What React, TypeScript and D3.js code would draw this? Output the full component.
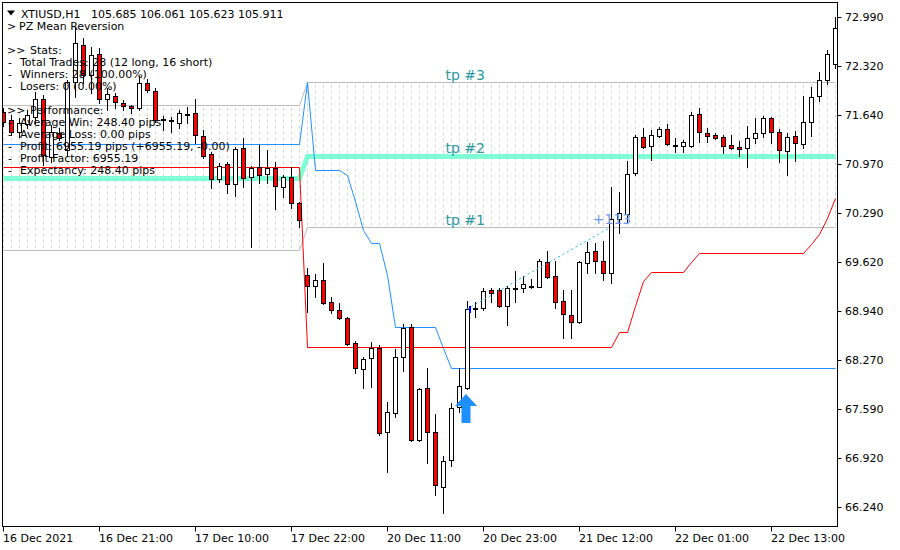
import * as d3 from "d3";

// ---- candles (H1 XTIUSD, oldest -> newest) ----
const opens = [
  71.683, 71.573, 71.408, 71.518, 71.615, 71.863, 71.063, 71.394, 71.16, 72.097,
  72.607, 72.193, 72.483, 71.863, 71.904, 71.807, 71.766, 71.739, 72.083, 71.973,
  71.573, 71.573, 71.532, 71.656, 71.67, 71.353, 71.105, 70.76, 70.967, 70.691,
  71.187, 70.788, 70.925, 70.829, 70.912, 70.65, 70.788, 70.429, 69.437, 69.286,
  69.368, 69.065, 68.955, 68.844, 68.5, 68.141, 68.293, 68.431, 67.273, 67.535,
  68.307, 68.72, 67.163, 67.88, 67.273, 66.515, 66.887, 67.618, 67.88, 68.968,
  68.982, 69.23, 69.23, 69.01, 69.251, 69.258, 69.286, 69.272, 69.616, 69.423,
  69.079, 68.886, 68.789, 69.602, 69.768, 69.63, 69.465, 70.209, 70.278, 70.843,
  71.339, 71.215, 71.353, 71.449, 71.222, 71.215, 71.215, 71.656, 71.394, 71.366,
  71.339, 71.229, 71.201, 71.187, 71.325, 71.394, 71.601, 71.408, 71.146, 71.353,
  71.242, 71.546, 71.904, 72.124, 72.345,
];
const highs = [
  71.739, 71.642, 71.601, 71.711, 71.959, 71.918, 71.504, 71.463, 72.124, 72.855,
  72.703, 72.579, 72.565, 72.014, 71.945, 71.849, 71.78, 72.18, 72.138, 72.014,
  71.628, 71.615, 71.711, 71.752, 71.863, 71.435, 71.132, 70.981, 70.994, 71.201,
  71.325, 70.939, 71.229, 71.16, 70.994, 70.815, 70.925, 70.443, 69.533, 69.451,
  69.602, 69.134, 69.051, 68.858, 68.527, 68.307, 68.514, 68.472, 67.687, 68.417,
  68.762, 68.762, 67.88, 68.155, 67.521, 66.942, 67.673, 68.155, 69.079, 69.065,
  69.258, 69.258, 69.258, 69.286, 69.492, 69.423, 69.382, 69.657, 69.768, 69.63,
  69.23, 69.23, 69.63, 69.892, 69.878, 69.906, 70.65, 70.581, 71.008, 71.366,
  71.463, 71.435, 71.477, 71.518, 71.325, 71.298, 71.683, 71.739, 71.463, 71.394,
  71.366, 71.366, 71.284, 71.49, 71.601, 71.628, 71.615, 71.449, 71.394, 71.422,
  71.904, 72.028, 72.235, 72.538, 72.993,
];
const lows = [
  71.49, 71.366, 71.339, 71.463, 71.532, 70.953, 70.994, 71.298, 71.091, 71.89,
  72.083, 71.945, 71.807, 71.711, 71.739, 71.711, 71.67, 71.711, 71.959, 71.546,
  71.435, 71.408, 71.463, 71.532, 71.256, 71.049, 70.636, 70.719, 70.567, 70.526,
  70.65, 69.823, 70.705, 70.705, 70.347, 70.512, 70.36, 70.098, 68.927, 69.134,
  69.037, 68.913, 68.831, 68.472, 68.086, 67.88, 67.893, 67.232, 66.722, 67.48,
  68.114, 67.149, 67.149, 66.846, 66.405, 66.157, 66.805, 67.549, 67.866, 68.858,
  68.955, 69.065, 68.996, 68.748, 69.065, 69.203, 69.258, 69.265, 69.402, 68.982,
  68.568, 68.568, 68.775, 69.465, 69.465, 69.368, 69.327, 70.016, 70.167, 70.815,
  71.187, 71.022, 71.339, 71.235, 71.132, 71.132, 71.201, 71.27, 71.27, 71.311,
  71.118, 71.173, 71.077, 70.925, 71.256, 71.339, 71.256, 70.994, 70.815, 71.008,
  71.187, 71.353, 71.835, 72.069, 72.29,
];
const closes = [
  71.546, 71.408, 71.532, 71.642, 71.863, 71.091, 71.408, 71.325, 72.097, 72.634,
  72.193, 72.469, 71.863, 71.931, 71.821, 71.766, 71.739, 72.083, 71.987, 71.573,
  71.587, 71.56, 71.67, 71.642, 71.366, 71.077, 70.76, 70.939, 70.691, 71.173,
  70.774, 70.912, 70.815, 70.912, 70.664, 70.788, 70.429, 70.195, 69.286, 69.368,
  69.051, 68.955, 68.844, 68.486, 68.155, 68.279, 68.431, 67.259, 67.549, 68.307,
  68.707, 67.163, 67.866, 67.273, 66.543, 66.873, 67.604, 67.907, 68.968, 68.982,
  69.216, 69.196, 69.01, 69.258, 69.258, 69.313, 69.292, 69.63, 69.409, 69.065,
  68.899, 68.789, 69.616, 69.754, 69.63, 69.465, 70.209, 70.291, 70.829, 71.339,
  71.201, 71.366, 71.449, 71.242, 71.215, 71.27, 71.642, 71.408, 71.353, 71.325,
  71.215, 71.187, 71.173, 71.325, 71.394, 71.601, 71.408, 71.16, 71.339, 71.256,
  71.546, 71.89, 72.124, 72.483, 72.841,
];

// ---- indicator lines, as [bar, price] vertices ----
const blueLine: [number, number][] = [
  [0, 71.242], [37, 71.242], [38, 72.097], [39, 70.884], [42, 70.884], [43, 70.815],
  [44, 70.457], [45, 70.057], [46, 69.878], [47, 69.878], [48, 69.437], [49, 68.72],
  [54, 68.72], [55, 68.431], [56, 68.155], [104, 68.155],
];
const redLine: [number, number][] = [
  [0, 70.925], [37, 70.925], [38, 68.445], [76, 68.445], [77, 68.651], [78, 68.651],
  [79, 69.01], [80, 69.354], [81, 69.478], [85, 69.478], [86, 69.616], [87, 69.74],
  [100, 69.74], [101, 69.864], [102, 70.002], [103, 70.223], [104, 70.498],
];
const tp3Line: [number, number][] = [[0, 71.78], [37, 71.78], [38, 72.097], [104, 72.097]];
const tp2Line: [number, number][] = [[0, 70.777], [37, 70.777], [38, 71.084], [104, 71.084]];
const tp1Line: [number, number][] = [[0, 69.781], [37, 69.781], [38, 70.098], [104, 70.098]];

const tpLabels = ["tp #3", "tp #2", "tp #1"];
const tpLabelBar = 60;

// trade + signal
const tradeOpen: [number, number] = [58, 68.968];
const tradeClose: [number, number] = [76, 70.098];
const tradeResult = "+113";
const signalBar = 58;
const signalPrice = 67.797;

// ---- axes ----
const priceTicks = [72.99, 72.32, 71.64, 70.97, 70.29, 69.62, 68.94, 68.27, 67.59, 66.92, 66.24];
const timeTickBars = [0, 12, 24, 36, 48, 60, 72, 84, 96];
const timeTickLabels = [
  "16 Dec 2021", "16 Dec 21:00", "17 Dec 10:00", "17 Dec 22:00", "20 Dec 11:00",
  "20 Dec 23:00", "21 Dec 12:00", "22 Dec 01:00", "22 Dec 13:00",
];

// ---- stats panel ----
const symbolTitle = "XTIUSD,H1";
const quoteLine = "105.685 106.061 105.623 105.911";
const statsLines: [string, string][] = [
  [">", "PZ Mean Reversion"],
  ["", ""],
  [">>", "Stats:"],
  ["-", "Total Trades: 28 (12 long, 16 short)"],
  ["-", "Winners: 28 (100.00%)"],
  ["-", "Losers: 0 (0.00%)"],
  ["", ""],
  [">>", "Performance:"],
  ["-", "Average Win: 248.40 pips"],
  ["-", "Average Loss: 0.00 pips"],
  ["-", "Profit: 6955.19 pips (+6955.19, -0.00)"],
  ["-", "Profit Factor: 6955.19"],
  ["-", "Expectancy: 248.40 pips"],
];

const FONT = "Tahoma, 'DejaVu Sans', sans-serif";

const plot = { left: 2.5, top: 2.5, right: 837.5, bottom: 526.5 };

function levelAt(line: [number, number][], bar: number) {
  let v = line[0][1];
  for (const [b, p] of line) if (b <= bar) v = p;
  return v;
}

function App() {
  const x = d3.scaleLinear().domain([0, 104]).range([3, 835]);
  const y = d3.scaleLinear().domain([66.24, 72.99]).range([507, 17.2]);
  const px = (i: number) => Math.round(x(i)) + 0.5;
  const py = (v: number) => Math.round(y(v)) + 0.5;

  const path = d3.line<[number, number]>()
    .x((d) => px(d[0]))
    .y((d) => py(d[1]));

  const bars = d3.range(opens.length);

  const ax = x(signalBar) - 1;
  const ay = y(signalPrice);
  const arrow = [[0, 0], [11, 12], [4.5, 12], [4.5, 29], [-4.5, 29], [-4.5, 12], [-11, 12]]
    .map(([dx, dy]) => `${ax + dx},${ay + dy}`).join(" ");

  return (
    <svg width={900} height={550} style={{ position: "absolute", left: 0, top: 0, background: "#fff" }}
      fontFamily={FONT}>
      <defs>
        <clipPath id="plot-clip">
          <rect x={plot.left} y={plot.top} width={plot.right - plot.left} height={plot.bottom - plot.top} />
        </clipPath>
      </defs>
      <rect width={900} height={550} fill="#fff" />

      <g clipPath="url(#plot-clip)">
        {/* tp zone grid */}
        {bars.map((i) => (
          <line key={`z-${i}`} x1={px(i)} x2={px(i)}
            y1={py(levelAt(tp3Line, i)) + 2} y2={py(levelAt(tp1Line, i)) - 1}
            stroke="#d4d4d4" strokeDasharray="3,3" />
        ))}
        <path d={path(tp3Line) ?? ""} fill="none" stroke="#bdbdbd" />
        <path d={path(tp1Line) ?? ""} fill="none" stroke="#bdbdbd" />
        <path d={path(tp2Line) ?? ""} fill="none" stroke="#7fffd4" strokeWidth={5} />
        <path d={path(blueLine) ?? ""} fill="none" stroke="#1e90ff" />
        <path d={path(redLine) ?? ""} fill="none" stroke="#ff0000" />

        {/* candles */}
        {bars.map((i) => {
          const o = opens[i], c = closes[i];
          const cx = px(i);
          const top = Math.round(y(Math.max(o, c)));
          const bot = Math.round(y(Math.min(o, c)));
          return (
            <g key={`c-${i}`}>
              <line x1={cx} x2={cx} y1={Math.round(y(highs[i]))} y2={Math.round(y(lows[i])) + 1} stroke="#000" />
              <rect x={cx - 2} y={top + 0.5} width={4} height={Math.max(1, bot - top)}
                fill={c >= o ? "#fff" : "#ff0000"} stroke="#000" />
            </g>
          );
        })}

        {/* trade */}
        <line x1={x(tradeOpen[0])} y1={y(tradeOpen[1])} x2={x(tradeClose[0])} y2={y(tradeClose[1])}
          stroke="#1eb4f0" strokeDasharray="2,3" />
        <rect x={Math.round(x(tradeOpen[0])) + 2} y={Math.round(y(tradeOpen[1])) - 3} width={2} height={7} fill="#0000ff" />
        <polygon points={arrow} fill="#1e90ff" />

        <text x={x(tradeClose[0]) + 1} y={y(tradeClose[1]) - 3} fontSize={14} fill="#6f97f0"
          textAnchor="middle" fontFamily="'DejaVu Sans', sans-serif">{tradeResult}</text>

        {[tp3Line, tp2Line, tp1Line].map((l, k) => (
          <text key={tpLabels[k]} x={x(tpLabelBar) + 2} y={py(levelAt(l, tpLabelBar)) - (k === 1 ? 4 : 3)}
            fontSize={14} fill="#2a9aa0" textAnchor="end" fontFamily="'DejaVu Sans', sans-serif">
            {tpLabels[k]}
          </text>
        ))}

        {/* stats panel */}
        <polygon points="7,10.5 15,10.5 11,15.5" fill="#000" />
        <text x={21} y={17.5} fontSize={11} fill="#000">{symbolTitle}</text>
        <text x={91} y={17.5} fontSize={11} fill="#000">{quoteLine}</text>
        {statsLines.map(([mark, label], k) => (
          <g key={`s-${k}`} fontSize={11} fill="#000">
            <text x={mark === "-" ? 8 : 7} y={29.5 + 12 * k}>{mark}</text>
            <text x={mark === ">" ? 19 : mark === ">>" ? 30 : 20} y={29.5 + 12 * k}>{label}</text>
          </g>
        ))}
      </g>

      {/* frame */}
      <rect x={plot.left} y={plot.top} width={plot.right - plot.left} height={plot.bottom - plot.top}
        fill="none" stroke="#000" />

      {/* price axis */}
      {priceTicks.map((p) => (
        <g key={`p-${p}`}>
          <line x1={plot.right} x2={plot.right + 4} y1={py(p)} y2={py(p)} stroke="#000" />
          <text x={845} y={y(p)} dy="0.36em" fontSize={11} fill="#000">{p.toFixed(3)}</text>
        </g>
      ))}

      {/* time axis */}
      {timeTickBars.map((b, k) => (
        <g key={`t-${b}`}>
          <line x1={px(b)} x2={px(b)} y1={plot.bottom} y2={plot.bottom + 5} stroke="#000" />
          <text x={x(b)} y={542} fontSize={11} fill="#000">{timeTickLabels[k]}</text>
        </g>
      ))}
    </svg>
  );
}

export default App;
